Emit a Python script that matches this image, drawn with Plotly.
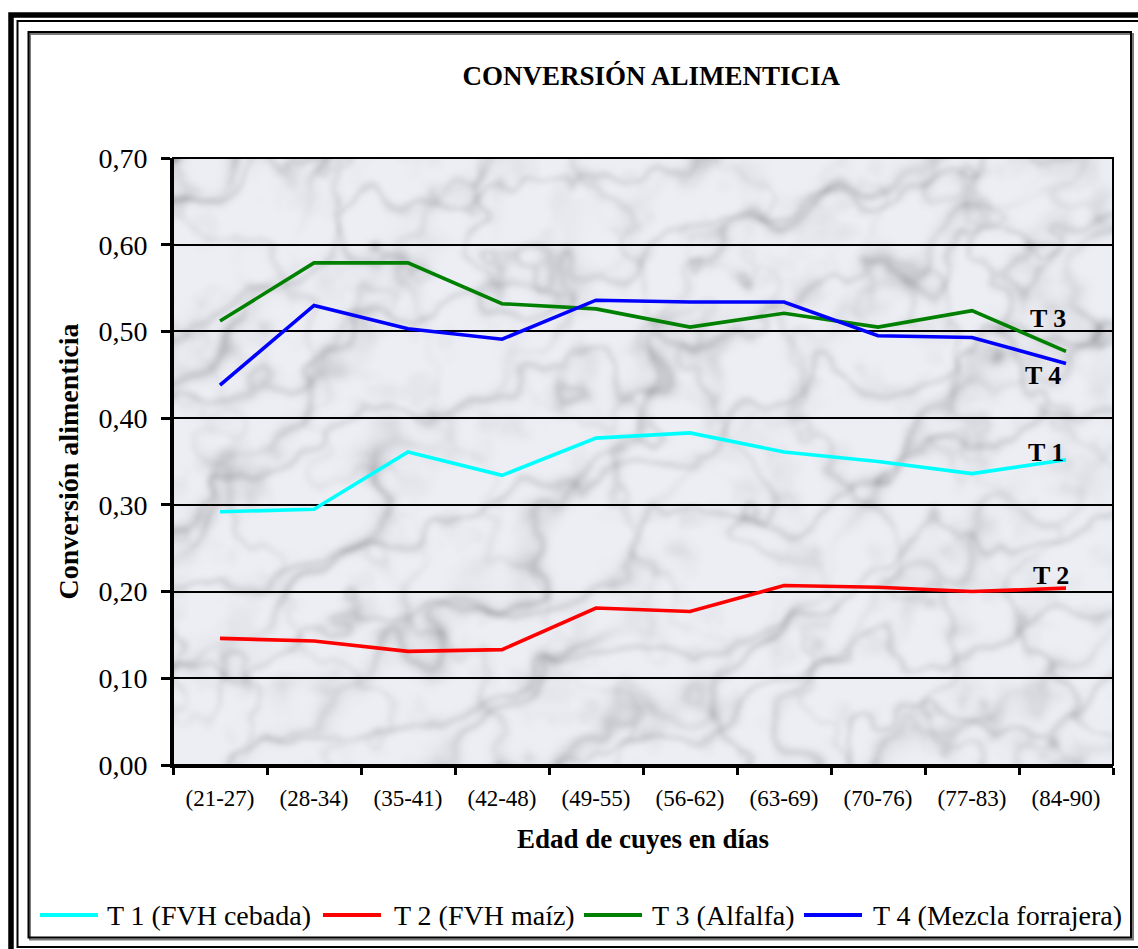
import base64
import struct
import zlib

import numpy as np
import plotly.graph_objects as go

# ---- data -----------------------------------------------------------------
edades = ["(21-27)", "(28-34)", "(35-41)", "(42-48)", "(49-55)",
          "(56-62)", "(63-69)", "(70-76)", "(77-83)", "(84-90)"]

t1_cebada = [0.292, 0.295, 0.361, 0.334, 0.377, 0.383, 0.361, 0.350, 0.336, 0.352]
t2_maiz = [0.146, 0.143, 0.131, 0.133, 0.181, 0.177, 0.207, 0.205, 0.200, 0.204]
t3_alfalfa = [0.512, 0.579, 0.579, 0.532, 0.526, 0.505, 0.521, 0.505, 0.524, 0.477]
t4_mezcla = [0.438, 0.530, 0.503, 0.491, 0.536, 0.534, 0.534, 0.495, 0.493, 0.463]

nombres = ["T 1 (FVH cebada)", "T 2 (FVH maíz)", "T 3 (Alfalfa)", "T 4 (Mezcla forrajera)"]
etiquetas = ["T 1", "T 2", "T 3", "T 4"]
colores = ["#00FFFF", "#FF0000", "#008000", "#0000FF"]
series = [t1_cebada, t2_maiz, t3_alfalfa, t4_mezcla]

SERIF = "Liberation Serif, Times New Roman, serif"

# ---- figure geometry (pixels) ---------------------------------------------
W, H = 1138, 949
ML, MR, MT, MB = 173, 25, 158, 184
PW, PH = W - ML - MR, H - MT - MB


def px(x):
    return (x - ML) / PW


def py(y):
    return (H - MB - y) / PH


# ---- marble texture for the plot background --------------------------------
def _hash(i, j):
    v = np.sin(i * 127.1 + j * 311.7) * 43758.5453
    return v - np.floor(v)


def _noise(x, y):
    xi, yi = np.floor(x), np.floor(y)
    xf, yf = x - xi, y - yi
    u = xf * xf * (3 - 2 * xf)
    v = yf * yf * (3 - 2 * yf)
    a = _hash(xi, yi)
    b = _hash(xi + 1, yi)
    c = _hash(xi, yi + 1)
    d = _hash(xi + 1, yi + 1)
    return (a + (b - a) * u) * (1 - v) + (c + (d - c) * u) * v


def _fbm(x, y, octaves=3):
    total, amp, norm = 0.0, 1.0, 0.0
    for _ in range(octaves):
        total = total + amp * _noise(x, y)
        norm += amp
        x, y, amp = x * 2.03, y * 2.03, amp * 0.5
    return total / norm


def _blur(a, n=2):
    for _ in range(n):
        p = np.pad(a, 1, mode="edge")
        a = (p[:-2, :-2] + p[:-2, 1:-1] + p[:-2, 2:] +
             p[1:-1, :-2] + p[1:-1, 1:-1] + p[1:-1, 2:] +
             p[2:, :-2] + p[2:, 1:-1] + p[2:, 2:]) / 9.0
    return a


def marble(w, h):
    gx, gy = np.meshgrid(np.arange(w) / 40.0, np.arange(h) / 40.0)
    t1 = _fbm(gx * 0.9, gy * 0.9)
    t2 = _fbm(gx * 1.4 + 13.7, gy * 1.4 + 5.3)
    m1 = _fbm(gx * 0.8 + 41.3, gy * 0.8 + 7.1, 2)
    m2 = _fbm(gx * 0.6 + 3.9, gy * 0.6 + 23.4, 2)
    blot = _fbm(gx * 2.5 + 9.1, gy * 2.5 + 61.7, 4)
    v1 = 1 - np.abs(np.sin(1.5 * (gx + gy) + 5.0 * t1))
    v2 = 1 - np.abs(np.sin(2.0 * (gx - 0.5 * gy) + 5.0 * t2))
    v3 = 1 - np.abs(np.sin(2.6 * (0.3 * gx + gy) + 6.0 * t1 * t2))
    shade = (240
             - 70 * v1 ** 5 * m1 ** 1.5
             - 55 * v2 ** 6 * m2 ** 1.5
             - 35 * v3 ** 7
             - 45 * np.clip(blot - 0.55, 0, None))
    shade = _blur(shade, 2)
    shade = np.clip(shade, 140, 248)
    rgb = np.stack([shade - 2, shade - 1, shade + 4], axis=-1)
    return np.clip(rgb, 0, 255).astype(np.uint8)


def png_uri(img):
    h, w, _ = img.shape
    raw = b"".join(b"\x00" + img[r].tobytes() for r in range(h))

    def chunk(tag, data):
        return (struct.pack(">I", len(data)) + tag + data
                + struct.pack(">I", zlib.crc32(tag + data) & 0xFFFFFFFF))

    png = (b"\x89PNG\r\n\x1a\n"
           + chunk(b"IHDR", struct.pack(">IIBBBBB", w, h, 8, 2, 0, 0, 0))
           + chunk(b"IDAT", zlib.compress(raw, 9))
           + chunk(b"IEND", b""))
    return "data:image/png;base64," + base64.b64encode(png).decode()


textura = png_uri(marble(470, 304))

# ---- traces -----------------------------------------------------------------
fig = go.Figure()
for nombre, valores, color in zip(nombres, series, colores):
    fig.add_trace(go.Scatter(
        x=edades, y=valores, name=nombre, mode="lines",
        line=dict(color=color, width=3.6), showlegend=False,
    ))

# ---- layout -----------------------------------------------------------------
fig.update_layout(
    width=W, height=H,
    margin=dict(l=ML, r=MR, t=MT, b=MB, pad=0),
    paper_bgcolor="white",
    plot_bgcolor="#e2e3e7",
    separators=",.",
    font=dict(family=SERIF, color="black"),
    title=dict(
        text="<b>CONVERSIÓN ALIMENTICIA</b>",
        x=579 / W, xanchor="center", xref="paper",
        y=1 - 76 / H, yanchor="middle", yref="container",
        font=dict(size=27, family=SERIF, color="black"),
    ),
    xaxis=dict(
        type="category", range=[-0.5, 9.5],
        showgrid=False, showline=True, linewidth=3, linecolor="black",
        ticks="outside", tickson="boundaries", ticklen=7, tickwidth=3,
        tickcolor="black", ticklabelstandoff=10,
        tickfont=dict(size=23, family=SERIF),
        title=dict(text="<b>Edad de cuyes en días</b>", standoff=20,
                   font=dict(size=27, family=SERIF)),
    ),
    yaxis=dict(
        range=[0, 0.70], dtick=0.1, tick0=0, tickformat=".2f",
        showgrid=True, gridcolor="black", gridwidth=1.5,
        showline=True, linewidth=3, linecolor="black",
        ticks="outside", ticklen=9, tickwidth=3, tickcolor="black",
        ticklabelstandoff=8,
        tickfont=dict(size=28, family=SERIF),
        title=dict(text="<b>Conversión alimenticia</b>", standoff=12,
                   font=dict(size=28, family=SERIF)),
    ),
    images=[dict(
        source=textura, xref="paper", yref="paper",
        x=0, y=1, sizex=1, sizey=1, xanchor="left", yanchor="top",
        sizing="stretch", layer="below",
    )],
)

# ---- frames -----------------------------------------------------------------
shapes = []
# outer double frame
shapes.append(dict(type="rect", xref="paper", yref="paper",
                   x0=px(11), x1=px(1150), y0=py(15), y1=py(960),
                   line=dict(color="black", width=5.5)))
shapes.append(dict(type="rect", xref="paper", yref="paper",
                   x0=px(17.5), x1=px(1145), y0=py(21), y1=py(947),
                   line=dict(color="black", width=2)))
# chart area border with drop shadow
shapes.append(dict(type="rect", xref="paper", yref="paper",
                   x0=px(30), x1=px(1133), y0=py(34), y1=py(939.5),
                   line=dict(color="#7a7a7a", width=2)))
shapes.append(dict(type="rect", xref="paper", yref="paper",
                   x0=px(28.5), x1=px(1131), y0=py(32), y1=py(937.5),
                   line=dict(color="black", width=2)))
# plot area border (top and right)
shapes.append(dict(type="rect", xref="paper", yref="paper",
                   x0=0, x1=1, y0=0, y1=1,
                   line=dict(color="black", width=2)))

# legend drawn along the bottom of the chart area
leyenda = [(40, 98, 105), (323, 381, 392), (584, 642, 650), (804, 862, 871)]
annotations = []
for (a, b, t), nombre, color in zip(leyenda, nombres, colores):
    shapes.append(dict(type="line", xref="paper", yref="paper",
                       x0=px(a), x1=px(b), y0=py(915), y1=py(915),
                       line=dict(color=color, width=4)))
    annotations.append(dict(
        xref="paper", yref="paper", x=px(t), y=py(915),
        xanchor="left", yanchor="middle", showarrow=False,
        text=nombre, font=dict(size=28, family=SERIF, color="black"),
    ))

# series labels next to the last point of each line
etiqueta_pos = [(-20, 452), (-15, 575), (-18, 318), (-23, 375)]
for (dx, ypix), etiqueta in zip(etiqueta_pos, etiquetas):
    annotations.append(dict(
        xref="x", yref="paper", x=edades[-1], y=py(ypix), xshift=dx,
        xanchor="center", yanchor="middle", showarrow=False,
        text="<b>" + etiqueta + "</b>",
        font=dict(size=26, family=SERIF, color="black"),
    ))

fig.update_layout(shapes=shapes, annotations=annotations)

fig.write_html("out.html")
